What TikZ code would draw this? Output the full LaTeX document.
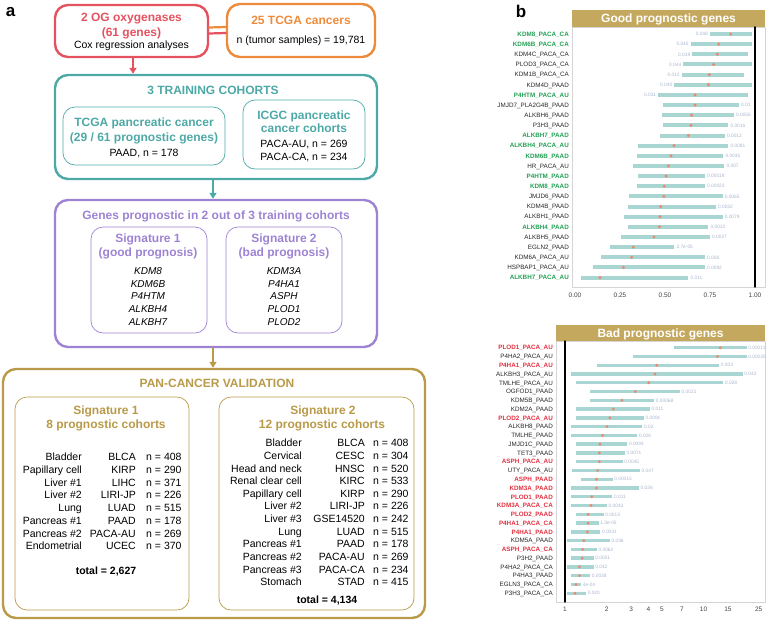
\documentclass[tikz,border=0pt]{standalone}
\usepackage{fontspec}
\setmainfont{Liberation Sans}
\usetikzlibrary{arrows.meta}
\definecolor{ogred}{HTML}{E5525F}
\definecolor{ogorange}{HTML}{EE8B3A}
\definecolor{trteal}{HTML}{4DA9A6}
\definecolor{sigpurple}{HTML}{9E83D3}
\definecolor{pangold}{HTML}{B89A48}
\definecolor{hdgold}{HTML}{C4A85E}
\definecolor{goodgreen}{HTML}{23A055}
\definecolor{badred}{HTML}{E2313F}
\definecolor{barteal}{HTML}{A9D6D3}
\definecolor{hrdot}{HTML}{E88B6E}
\definecolor{pvgrey}{HTML}{A8B5CC}
\definecolor{framegrey}{HTML}{D5D5D5}
\tikzset{
    outerbox/.style={draw, rounded corners=13pt, line width=2.4pt, inner sep=0pt},
    innerbox/.style={draw, rounded corners=12pt, line width=0.7pt, inner sep=0pt},
    hd/.style={font=\bfseries\fontsize{12}{14}\selectfont, inner sep=0pt, text height=8.6pt, text depth=0pt},
    txt/.style={font=\fontsize{10.5}{12}\selectfont, inner sep=0pt, text height=7.5pt, text depth=0pt},
    gene/.style={txt, font=\itshape\fontsize{10}{12}\selectfont},
    flow/.style={-{Triangle[width=7pt,length=6pt]}, line width=2pt},
    panel/.style={font=\bfseries\fontsize{17}{20}\selectfont, inner sep=0pt},
    rowlab/.style={font=\fontsize{6.3}{7}\selectfont, inner sep=0pt, anchor=east, text height=4.5pt, text depth=0pt},
    gsig/.style={text=goodgreen, font=\bfseries\fontsize{6.3}{7}\selectfont},
    bsig/.style={text=badred, font=\bfseries\fontsize{6.3}{7}\selectfont},
    rest/.style={text=black!85},
    pval/.style={font=\fontsize{4.8}{5}\selectfont, text=pvgrey, inner sep=0pt, text height=3.4pt, text depth=0pt},
    ticklab/.style={font=\fontsize{6.5}{7}\selectfont, text=black!75, inner sep=0pt}
}

\begin{document}
\begin{tikzpicture}[x=1pt,y=-1pt, line cap=round, line join=round]
\useasboundingbox (0,0) rectangle (767,621);

\node[panel] (pa) at (10.5,12) {a};
\node[panel] (pb) at (521,11) {b};

% top row: gene set and cancer set
\node[outerbox, draw=ogred, minimum width=153pt, minimum height=52pt] (og) at (131.5,31) {};
\node[outerbox, draw=ogorange, minimum width=148pt, minimum height=53pt] (tc) at (301,30.5) {};
\draw[ogorange, line width=2.2pt] ([yshift=3.5pt]og.east) -- ([yshift=3.5pt]tc.west);
\draw[ogred, line width=2.2pt] ([yshift=-2.5pt]og.east) -- ([yshift=-2.5pt]tc.west);
\node[hd, text=ogred] (og1) at (131.5,17) {2 OG oxygenases};
\node[hd, text=ogred] (og2) at (131.5,32) {(61 genes)};
\node[txt] (og3) at (131.5,45) {Cox regression analyses};
\node[hd, text=ogorange] (tc1) at (301,20.5) {25 TCGA cancers};
\node[txt] (tc2) at (301,40) {n (tumor samples) = 19,781};

% training cohorts
\node[outerbox, draw=trteal, minimum width=322pt, minimum height=104pt] (tr) at (216,127) {};
\node[hd, text=trteal] (trt) at (213,90) {3 TRAINING COHORTS};
\node[innerbox, draw=trteal, minimum width=162pt, minimum height=58pt] (trl) at (144,136) {};
\node[innerbox, draw=trteal, minimum width=122pt, minimum height=69pt] (trr) at (304,134.5) {};
\node[hd, text=trteal] at (144,122) {TCGA pancreatic cancer};
\node[hd, text=trteal] at (144,137) {(29 / 61 prognostic genes)};
\node[txt] at (144,153) {PAAD, n = 178};
\node[hd, text=trteal] at (304,115) {ICGC pancreatic};
\node[hd, text=trteal] at (304,128.5) {cancer cohorts};
\node[txt] at (304,144) {PACA-AU, n = 269};
\node[txt] at (304,157) {PACA-CA, n = 234};
\draw[flow, ogred] ([xshift=1.5pt]og.south) -- ([xshift=1.5pt]og.south |- tr.north);

% signatures
\node[outerbox, draw=sigpurple, minimum width=322pt, minimum height=147pt] (sg) at (216,273.5) {};
\node[hd, text=sigpurple] (sgt) at (216,215) {Genes prognostic in 2 out of 3 training cohorts};
\node[innerbox, draw=sigpurple, minimum width=116pt, minimum height=106pt] (sgl) at (149,280) {};
\node[innerbox, draw=sigpurple, minimum width=116pt, minimum height=106pt] (sgr) at (284,280) {};
\node[hd, text=sigpurple] at (148,238) {Signature 1};
\node[hd, text=sigpurple] at (148,252) {(good prognosis)};
\node[hd, text=sigpurple] at (284,238) {Signature 2};
\node[hd, text=sigpurple] at (284,252) {(bad prognosis)};
\foreach \g [count=\i] in {KDM8,KDM6B,P4HTM,ALKBH4,ALKBH7}
  \node[gene] at (148,{271+(\i-1)*12.6}) {\g};
\foreach \g [count=\i] in {KDM3A,P4HA1,ASPH,PLOD1,PLOD2}
  \node[gene] at (284,{271+(\i-1)*12.6}) {\g};
\draw[flow, trteal] ([xshift=-3pt]tr.south) -- ([xshift=-3pt]tr.south |- sg.north);

% pan-cancer validation
\node[outerbox, draw=pangold, minimum width=422pt, minimum height=249pt] (pc) at (214,493.5) {};
\node[hd, text=pangold] (pct) at (217,383.5) {PAN-CANCER VALIDATION};
\node[innerbox, draw=pangold, minimum width=174pt, minimum height=213pt] (pcl) at (102,503.5) {};
\node[innerbox, draw=pangold, minimum width=195pt, minimum height=213pt] (pcr) at (316.5,503.5) {};
\draw[flow, pangold] ([xshift=-3pt]sg.south) -- ([xshift=-3pt]sg.south |- pc.north);
\node[hd, text=pangold] at (106,410) {Signature 1};
\node[hd, text=pangold] at (106,424) {8 prognostic cohorts};
\node[hd, text=pangold] at (323,410) {Signature 2};
\node[hd, text=pangold] at (322,424) {12 prognostic cohorts};
\foreach \site/\code/\num [count=\i] in {Bladder/BLCA/408, Papillary cell/KIRP/290,
    Liver \#1/LIHC/371, Liver \#2/LIRI-JP/226, Lung/LUAD/515, Pancreas \#1/PAAD/178,
    Pancreas \#2/PACA-AU/269, Endometrial/UCEC/370} {
  \pgfmathsetmacro\ry{457+(\i-1)*12.71}
  \node[txt, anchor=east] at (82,\ry) {\site};
  \node[txt, anchor=east] at (136,\ry) {\code};
  \node[txt, anchor=west] at (146,\ry) {n = \num};
}
\node[txt, font=\bfseries\fontsize{10.5}{12}\selectfont] at (106,571) {total = 2,627};
\foreach \site/\code/\num [count=\i] in {Bladder/BLCA/408, Cervical/CESC/304,
    Head and neck/HNSC/520, Renal clear cell/KIRC/533, Papillary cell/KIRP/290,
    Liver \#2/LIRI-JP/226, Liver \#3/GSE14520/242, Lung/LUAD/515, Pancreas \#1/PAAD/178,
    Pancreas \#2/PACA-AU/269, Pancreas \#3/PACA-CA/234, Stomach/STAD/415} {
  \pgfmathsetmacro\ry{443+(\i-1)*12.64}
  \node[txt, anchor=east] at (302,\ry) {\site};
  \node[txt, anchor=east] at (365,\ry) {\code};
  \node[txt, anchor=west] at (373,\ry) {n = \num};
}
\node[txt, font=\bfseries\fontsize{10.5}{12}\selectfont] at (327,600) {total = 4,134};

% forest plot, good prognostic genes (x = 575 + 180*HR)
\fill[hdgold] (572,10) rectangle (765,27);
\node[hd, text=white] (goodhd) at (668.5,18.5) {Good prognostic genes};
\draw[framegrey, line width=0.6pt] (572,27) rectangle (765,287);
\foreach \lab/\grp/\hr/\lo/\hi/\pv [count=\i] in {
    KDM8\_PACA\_CA/gsig/0.865/0.750/0.983/0.048,
    KDM6B\_PACA\_CA/gsig/0.798/0.643/0.985/0.045,
    KDM4C\_PACA\_CA/rest/0.791/0.652/0.963/0.019,
    PLOD3\_PACA\_CA/rest/0.770/0.602/0.985/0.044,
    KDM1B\_PACA\_CA/rest/0.746/0.593/0.941/0.012,
    KDM4D\_PAAD/rest/0.741/0.552/0.985/0.040,
    P4HTM\_PACA\_AU/gsig/0.667/0.463/0.959/0.031,
    JMJD7\_PLA2G4B\_PAAD/rest/0.667/0.491/0.911/0.01,
    ALKBH6\_PAAD/rest/0.648/0.481/0.883/0.0056,
    P3H3\_PAAD/rest/0.644/0.491/0.852/0.0016,
    ALKBH7\_PAAD/gsig/0.630/0.472/0.833/0.0012,
    ALKBH4\_PACA\_AU/gsig/0.550/0.352/0.852/0.0081,
    KDM6B\_PAAD/gsig/0.533/0.343/0.824/0.0045,
    HR\_PACA\_AU/rest/0.519/0.324/0.830/0.007,
    P4HTM\_PAAD/gsig/0.506/0.352/0.722/0.00019,
    KDM8\_PAAD/gsig/0.496/0.343/0.722/0.00023,
    JMJD6\_PAAD/rest/0.494/0.302/0.820/0.0065,
    KDM4B\_PAAD/rest/0.476/0.293/0.783/0.0032,
    ALKBH1\_PAAD/rest/0.472/0.272/0.820/0.0079,
    ALKBH4\_PAAD/gsig/0.469/0.293/0.741/0.0012,
    ALKBH5\_PAAD/rest/0.439/0.254/0.750/0.0027,
    EGLN2\_PAAD/rest/0.324/0.194/0.552/2.7e-05,
    KDM6A\_PACA\_AU/rest/0.315/0.144/0.722/0.006,
    HSPBAP1\_PACA\_AU/rest/0.269/0.102/0.722/0.0092,
    ALKBH7\_PACA\_AU/gsig/0.139/0.033/0.630/0.011} {
  \pgfmathsetmacro\ry{34+(\i-1)*10.15}
  \pgfmathsetmacro\xa{575+180*\lo}
  \pgfmathsetmacro\xb{575+180*\hi}
  \pgfmathsetmacro\xh{575+180*\hr}
  \fill[barteal] (\xa,\ry-2) rectangle (\xb,\ry+2);
  \fill[hrdot] (\xh,\ry) circle (1.7pt);
  \node[rowlab, \grp] at (569,\ry) {\lab};
  \ifdim\hi pt>0.93pt
    \node[pval, anchor=east] at (\xa-2,\ry) {\pv};
  \else
    \node[pval, anchor=west] at (\xb+2,\ry) {\pv};
  \fi
}
\draw[line width=1.4pt] (755,27) -- (755,287);
\foreach \v/\t in {0/0.00, 0.25/0.25, 0.5/0.50, 0.75/0.75, 1/1.00}
  \node[ticklab] at ({575+180*\v},295) {\t};

% forest plot, bad prognostic genes (log scale, x = 565 + 60.15*ln(HR))
\fill[hdgold] (556,325) rectangle (765,341);
\node[hd, text=white] (badhd) at (660.5,333) {Bad prognostic genes};
\draw[framegrey, line width=0.6pt] (556,341) rectangle (765,602);
\foreach \lab/\grp/\hr/\lo/\hi/\pv [count=\i] in {
    PLOD1\_PACA\_AU/bsig/13.2/6.12/20.5/0.00013,
    P4HA2\_PACA\_AU/rest/12.6/3.11/20.5/0.00035,
    P4HA1\_PACA\_AU/bsig/4.59/1.71/13.0/0.003,
    ALKBH3\_PACA\_AU/rest/4.47/1.10/19.2/0.042,
    TMLHE\_PACA\_AU/rest/4.02/1.20/13.9/0.028,
    OGFOD1\_PAAD/rest/3.22/1.52/6.77/0.0021,
    KDM5B\_PAAD/rest/2.58/1.52/4.41/0.00068,
    KDM2A\_PAAD/rest/2.23/1.20/4.11/0.011,
    PLOD2\_PACA\_AU/bsig/2.11/1.20/3.72/0.0091,
    ALKBH8\_PAAD/rest/2.01/1.10/3.62/0.02,
    TMLHE\_PAAD/rest/1.87/1.10/3.33/0.026,
    JMJD1C\_PAAD/rest/1.79/1.20/2.82/0.0094,
    TET3\_PAAD/rest/1.77/1.20/2.71/0.0071,
    ASPH\_PACA\_AU/bsig/1.77/1.20/2.61/0.0045,
    UTY\_PACA\_AU/rest/1.72/1.12/3.48/0.047,
    ASPH\_PAAD/bsig/1.69/1.31/2.21/0.00015,
    KDM3A\_PAAD/bsig/1.69/1.10/3.42/0.026,
    PLOD1\_PAAD/bsig/1.56/1.10/2.20/0.011,
    KDM3A\_PACA\_CA/bsig/1.54/1.10/2.01/0.0043,
    PLOD2\_PAAD/bsig/1.47/1.20/1.90/0.0013,
    P4HA1\_PACA\_CA/bsig/1.47/1.20/1.75/1.3e-05,
    P4HA1\_PAAD/bsig/1.45/1.10/1.80/0.0031,
    KDM5A\_PAAD/rest/1.37/1.04/2.11/0.036,
    ASPH\_PACA\_CA/bsig/1.34/1.10/1.70/0.0062,
    P3H2\_PAAD/rest/1.33/1.10/1.61/0.0031,
    P4HA2\_PACA\_CA/rest/1.27/1.04/1.61/0.042,
    P4HA3\_PAAD/rest/1.27/1.10/1.52/0.0038,
    EGLN3\_PACA\_CA/rest/1.20/1.10/1.31/4e-04,
    P3H3\_PACA\_CA/rest/1.18/1.04/1.42/0.020} {
  \pgfmathsetmacro\ry{347.7+(\i-1)*8.77}
  \pgfmathsetmacro\xa{565+60.15*ln(\lo)}
  \pgfmathsetmacro\xb{565+60.15*ln(\hi)}
  \pgfmathsetmacro\xh{565+60.15*ln(\hr)}
  \fill[barteal] (\xa,\ry-1.7) rectangle (\xb,\ry+1.7);
  \fill[hrdot] (\xh,\ry) circle (1.6pt);
  \node[rowlab, \grp] at (553,\ry) {\lab};
  \node[pval, anchor=west] at (\xb+1.5,\ry) {\pv};
}
\draw[line width=1.4pt] (565,341) -- (565,602);
\foreach \v in {1,2,3,4,5,7,10,15,25}
  \node[ticklab] at ({565+60.15*ln(\v)},609.5) {\v};

\end{tikzpicture}
\end{document}
